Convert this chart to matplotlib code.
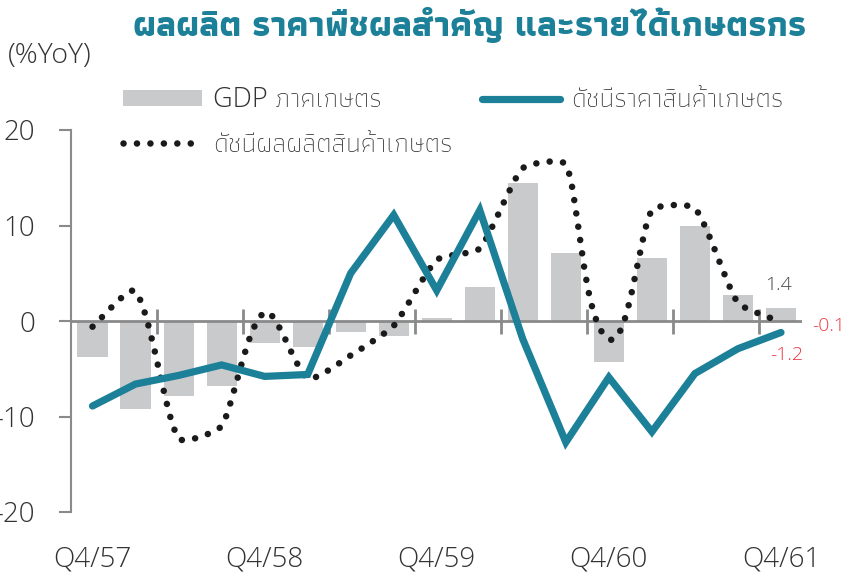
import matplotlib
matplotlib.use("Agg")
import matplotlib.pyplot as plt
import numpy as np
from matplotlib.path import Path
from matplotlib.patches import PathPatch, Patch
from matplotlib.lines import Line2D

plt.rcParams['font.family'] = ['Open Sans', 'Athiti', 'DejaVu Sans']
plt.rcParams['font.weight'] = 'light'
plt.rcParams['axes.unicode_minus'] = False

# ---------------- data ----------------
quarters = ["Q4/57", "Q1/58", "Q2/58", "Q3/58", "Q4/58", "Q1/59", "Q2/59", "Q3/59",
            "Q4/59", "Q1/60", "Q2/60", "Q3/60", "Q4/60", "Q1/61", "Q2/61", "Q3/61", "Q4/61"]
gdp_agri = [-3.8, -9.2, -7.9, -6.8, -2.3, -2.7, -1.1, -1.6, 0.3, 3.6,
            14.4, 7.1, -4.3, 6.6, 10.0, 2.7, 1.4]
price_index = [-8.9, -6.6, -5.7, -4.6, -5.8, -5.6, 5.0, 11.1, 3.2, 11.6,
               -1.9, -12.7, -5.9, -11.6, -5.5, -2.9, -1.2]
output_index = [-0.6, 3.1, -12.3, -11.0, 0.9, -6.0, -3.6, -0.5, 6.4, 7.6,
                16.0, 16.4, -1.9, 11.6, 11.8, 1.9, -0.1]
tick_labels = ["Q4/57", "Q4/58", "Q4/59", "Q4/60", "Q4/61"]
yticks = [-20, -10, 0, 10, 20]

title = "ผลผลิต ราคาพืชผลสำคัญ และรายได้เกษตรกร"
lab_gdp = "GDP ภาคเกษตร"
lab_price = "ดัชนีราคาสินค้าเกษตร"
lab_output = "ดัชนีผลผลิตสินค้าเกษตร"

TEAL = "#1b8098"
GRAY_BAR = "#c9cacc"
AX_GRAY = "#8a8a8a"
RED = "#ee3a43"
TXT = "#333333"
DOT = "#1a1a1a"
DOTSTYLE = (0, (0.01, 2.05))

x = np.arange(len(quarters))

fig = plt.figure(figsize=(8.54, 5.8), dpi=100)
ax = fig.add_axes([71/854, 1-512/580, (802.5-71)/854, (512-130)/580])
ax.set_xlim(-0.5, len(quarters) - 0.5)
ax.set_ylim(-20, 20)

# bars
ax.bar(x, gdp_agri, width=0.7, color=GRAY_BAR, zorder=1)

# zero line with small category ticks
ax.axhline(0, color=AX_GRAY, lw=2, zorder=2)
minor_pos = x[1:-1:2] + 0.5
ax.plot(minor_pos, np.zeros(len(minor_pos)), ls='none', marker='|', ms=18,
        mew=2, color=AX_GRAY, zorder=2)

# smoothed dotted output index (spreadsheet-style smoothing in screen space)
P = ax.transData.transform(np.column_stack([x, output_index]).astype(float))
n = len(P)
D = np.zeros_like(P)
for i in range(n):
    if i == 0:
        d = P[1] - P[0]
    elif i == n - 1:
        d = P[-1] - P[-2]
    else:
        d = P[i + 1] - P[i - 1]
    D[i] = d / np.hypot(*d)
verts_disp = [P[0]]
codes = [Path.MOVETO]
for i in range(n - 1):
    L = np.hypot(*(P[i + 1] - P[i]))
    verts_disp += [P[i] + D[i] * L / 6.0, P[i + 1] - D[i + 1] * L / 6.0, P[i + 1]]
    codes += [Path.CURVE4] * 3
verts = ax.transData.inverted().transform(np.array(verts_disp))
patch = PathPatch(Path(verts, codes), fill=False, edgecolor=DOT,
                  lw=4.7, linestyle=DOTSTYLE, zorder=3)
patch.set_capstyle('round')
ax.add_patch(patch)

# price index line
ax.plot(x, price_index, color=TEAL, lw=5.2, solid_capstyle='round',
        solid_joinstyle='miter', zorder=4)

# annotations
ax.annotate(f"{gdp_agri[-1]:.1f}", (x[-1], gdp_agri[-1]), xytext=(-2, 10),
            textcoords='offset points', ha='center', va='bottom',
            fontsize=14, color="#444444")
ax.annotate(f"{output_index[-1]:.1f}", (x[-1], output_index[-1]), xytext=(34, -3),
            textcoords='offset points', ha='center', va='center',
            fontsize=14, color=RED, annotation_clip=False)
ax.annotate(f"{price_index[-1]:.1f}", (x[-1], price_index[-1]), xytext=(4, -16),
            textcoords='offset points', ha='center', va='center',
            fontsize=14, color=RED, annotation_clip=False)

# axes styling
for s in ['top', 'right', 'bottom']:
    ax.spines[s].set_visible(False)
ax.spines['left'].set_color(AX_GRAY)
ax.spines['left'].set_linewidth(1.5)
ax.set_yticks(yticks)
ax.set_yticklabels([str(v) for v in yticks])
ax.tick_params(axis='y', direction='out', length=9, width=1.5, color=AX_GRAY,
               pad=17, labelsize=20, labelcolor=TXT)
ax.set_xticks(x[::4])
ax.set_xticklabels(tick_labels)
ax.tick_params(axis='x', length=0, pad=24, labelsize=20, labelcolor=TXT)

# title and unit
fig.text(470/854, 1-25/580, title, ha='center', va='center', fontsize=25.5,
         fontweight='bold', color=TEAL, family=['Athiti'])
fig.text(8/854, 1-56/580, "(%YoY)", ha='left', va='center', fontsize=20.5,
         color=TXT)

# legend
handles = [Patch(facecolor=GRAY_BAR, edgecolor='none'),
           Line2D([], [], color=DOT, lw=4.7, ls=DOTSTYLE, dash_capstyle='round'),
           Line2D([], [], color=TEAL, lw=5.2, solid_capstyle='round')]
labels = [lab_gdp, lab_output, lab_price]
leg = fig.legend(handles, labels, ncol=2, loc='upper left',
                 bbox_to_anchor=(99/854, 1-62/580), frameon=False,
                 prop={'size': 19.5, 'weight': 'light'}, handlelength=2.9,
                 handleheight=0.55, handletextpad=0.4, columnspacing=1.1,
                 labelspacing=0.6, labelcolor=TXT)

fig.savefig("out.png", dpi=100)
